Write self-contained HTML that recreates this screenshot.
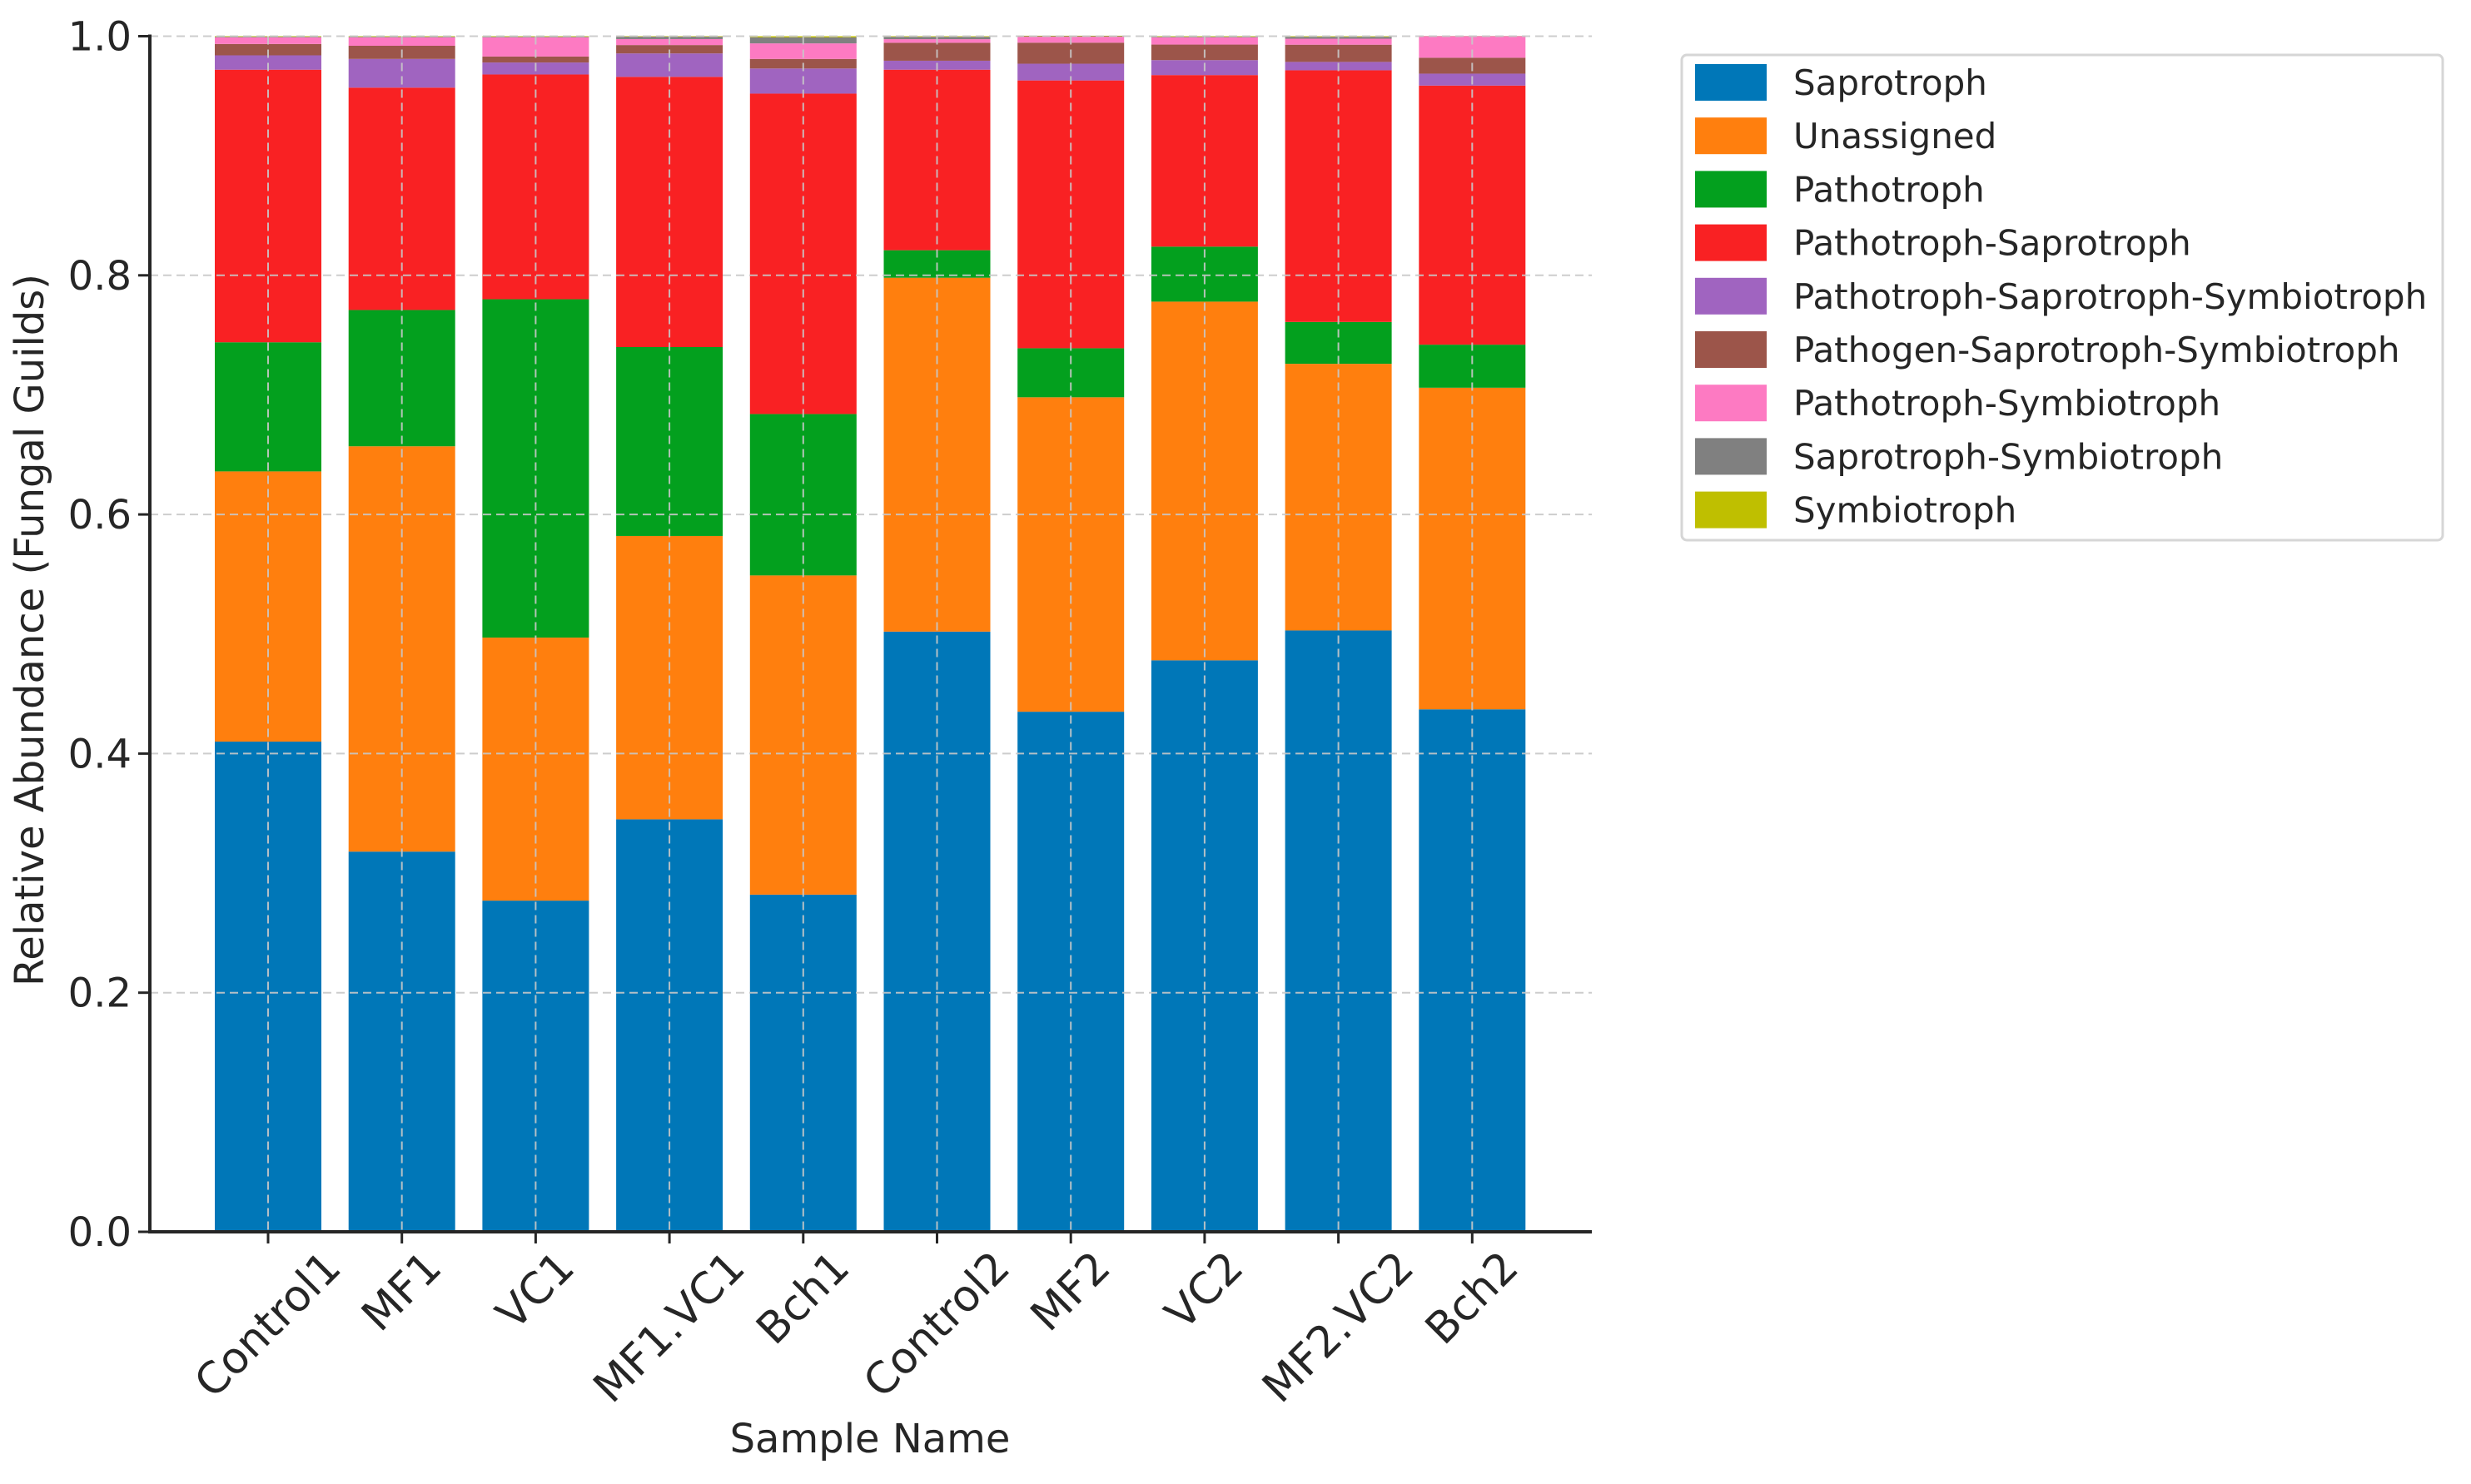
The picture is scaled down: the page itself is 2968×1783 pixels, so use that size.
<!DOCTYPE html>
<html><head><meta charset="utf-8"><style>
html,body{margin:0;padding:0;background:#fff;}
svg{display:block;font-family:"DejaVu Sans","Liberation Sans",sans-serif;}
</style></head><body>
<svg id="chart" width="2968" height="1783" viewBox="0 0 2968 1783" xmlns="http://www.w3.org/2000/svg"></svg>
<script>
const categories = ["Control1","MF1","VC1","MF1.VC1","Bch1","Control2","MF2","VC2","MF2.VC2","Bch2"];
const guilds = ["Saprotroph","Unassigned","Pathotroph","Pathotroph-Saprotroph","Pathotroph-Saprotroph-Symbiotroph","Pathogen-Saprotroph-Symbiotroph","Pathotroph-Symbiotroph","Saprotroph-Symbiotroph","Symbiotroph"];
const colors = ["#0077b8","#ff7f0e","#03a01e","#f92123","#a064c0","#9c554a","#fd7ac2","#808080","#bfbf00"];
const saprotroph = [0.41,0.318,0.277,0.345,0.282,0.502,0.435,0.478,0.503,0.437];
const unassigned = [0.226,0.339,0.22,0.237,0.267,0.296,0.263,0.30,0.223,0.269];
const pathotroph = [0.108,0.114,0.283,0.158,0.135,0.023,0.041,0.046,0.035,0.036];
const pathoSapro = [0.228,0.186,0.188,0.226,0.268,0.151,0.224,0.1435,0.2105,0.2167];
const pathoSaproSym = [0.012,0.024,0.01,0.0196,0.021,0.0075,0.014,0.0125,0.007,0.01];
const pathogenSaproSym = [0.0095,0.011,0.005,0.007,0.008,0.015,0.0176,0.013,0.0144,0.0133];
const pathoSym = [0.0055,0.007,0.016,0.005,0.013,0.003,0.005,0.006,0.005,0.018];
const saproSym = [0.0005,0.0005,0.0005,0.002,0.005,0.002,0.0004,0.0005,0.0016,0.0001];
const symbiotroph = [0.0005,0.0005,0.0005,0.0004,0.001,0.0005,0.0004,0.0005,0.0005,0.0001];
const series = [saprotroph,unassigned,pathotroph,pathoSapro,pathoSaproSym,pathogenSaproSym,pathoSym,saproSym,symbiotroph];
const yTicks = [0,0.2,0.4,0.6,0.8,1.0];
const yTickLabels = ["0.0","0.2","0.4","0.6","0.8","1.0"];

const svg = document.getElementById('chart');
const NS = "http://www.w3.org/2000/svg";
const L=180, R=1912, T=43.5, B=1480;
const c0=322, step=160.7, bw=128;
const xPos = i => c0 + i*step;
const yPos = v => B - v*(B-T);
function mk(tag, attrs, parent){
  const e=document.createElementNS(NS,tag);
  for(const k in attrs) e.setAttribute(k,attrs[k]);
  (parent||svg).appendChild(e); return e;
}
const barsG = mk('g',{});


categories.forEach((cat,i)=>{
  let cum=0;
  series.forEach((s,j)=>{
    const v=s[i];
    const r=mk('rect',{x:xPos(i)-bw/2,y:yPos(cum+v),width:bw,height:Math.max(0,yPos(cum)-yPos(cum+v)),fill:colors[j]},barsG);
    
    
    cum+=v;
  });
});
const gridG = mk('g',{stroke:'#c8c8c8','stroke-width':2,'stroke-dasharray':'10,6',opacity:0.9});


yTicks.forEach(t=>{ mk('line',{x1:L,x2:R,y1:yPos(t),y2:yPos(t)},gridG); });
categories.forEach((c,i)=>{ mk('line',{x1:xPos(i),x2:xPos(i),y1:T,y2:B},gridG); });
const yAxis = mk('line',{x1:L,x2:L,y1:T-2,y2:B+2,stroke:'#262626','stroke-width':4});


const xAxis = mk('line',{x1:L-2,x2:R,y1:B,y2:B,stroke:'#262626','stroke-width':4});


yTicks.forEach((t,k)=>{
  mk('line',{x1:L-14,x2:L,y1:yPos(t),y2:yPos(t),stroke:'#262626','stroke-width':3});
  const tx=mk('text',{x:L-22,y:yPos(t)+17,'text-anchor':'end','font-size':48,fill:'#262626'});
  tx.textContent=yTickLabels[k];
  
  
});
const FS=52, labelTop=1500;
categories.forEach((c,i)=>{
  mk('line',{x1:xPos(i),x2:xPos(i),y1:B,y2:B+14,stroke:'#262626','stroke-width':3});
  const tx=mk('text',{x:0,y:0,'text-anchor':'middle','dominant-baseline':'central','font-size':FS,fill:'#262626'});
  tx.textContent=c;
  
  
  const w=tx.getComputedTextLength();
  const hb=(w+FS*0.75)*0.7071;
  tx.setAttribute('transform',`translate(${xPos(i)},${labelTop+hb/2}) rotate(-45)`);
});
const xt=mk('text',{x:1045,y:1745,'text-anchor':'middle','font-size':48,fill:'#262626'});
xt.textContent='Sample Name';


const yt=mk('text',{x:0,y:0,'text-anchor':'middle','font-size':48,fill:'#262626',transform:'translate(52,757) rotate(-90)'});
yt.textContent='Relative Abundance (Fungal Guilds)';


const lg=mk('g',{});


mk('rect',{x:2020,y:66,width:914,height:583,rx:6,fill:'#fff',stroke:'#d6d6d6','stroke-width':3},lg);
guilds.forEach((g,j)=>{
  const y0=98+j*64.2;
  const e=mk('g',{},lg);
  
  
  mk('rect',{x:2036,y:y0-21,width:86,height:44,fill:colors[j]},e);
  const t=mk('text',{x:2154,y:y0+16,'font-size':42,fill:'#262626'},e);
  t.textContent=g;
});
</script>
</body></html>
